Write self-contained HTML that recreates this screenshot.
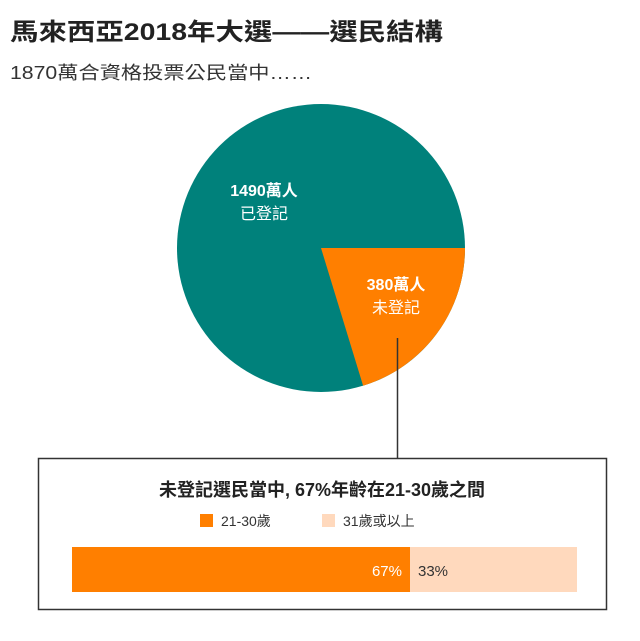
<!DOCTYPE html>
<html><head><meta charset="utf-8"><style>
body{margin:0;background:#fff;}
svg text{font-family:"Liberation Sans","Noto Sans CJK TC",sans-serif;}
</style></head><body>
<svg width="640" height="636" xmlns="http://www.w3.org/2000/svg">
<rect width="640" height="636" fill="#fff"/>
<text x="10" y="40" font-size="24" font-weight="bold" fill="#222" textLength="433" lengthAdjust="spacingAndGlyphs">馬來西亞2018年大選——選民結構</text>
<text x="10" y="79" font-size="18" fill="#333" textLength="302" lengthAdjust="spacingAndGlyphs">1870萬合資格投票公民當中……</text>
<circle cx="321" cy="248" r="144" fill="#00817b"/>
<path d="M321,248 L465,248 A144,144 0 0,1 363.1,385.7 Z" fill="#ff7f00"/>
<text x="264" y="196" font-size="16" font-weight="bold" fill="#fff" text-anchor="middle">1490萬人</text>
<text x="264" y="219" font-size="16" fill="#fff" text-anchor="middle">已登記</text>
<text x="396" y="290" font-size="16" font-weight="bold" fill="#fff" text-anchor="middle">380萬人</text>
<text x="396" y="313" font-size="16" fill="#fff" text-anchor="middle">未登記</text>
<line x1="397.5" y1="338" x2="397.5" y2="458" stroke="#333" stroke-width="1.5"/>
<rect x="38.5" y="458.5" width="568" height="151" fill="#fff" stroke="#333" stroke-width="1.5"/>
<text x="322" y="496" font-size="18" font-weight="bold" fill="#222" text-anchor="middle">未登記選民當中, 67%年齡在21-30歲之間</text>
<rect x="200" y="514" width="13" height="13" fill="#ff7f00"/>
<text x="221" y="526" font-size="14" fill="#333">21-30歲</text>
<rect x="322" y="514" width="13" height="13" fill="#ffd9bd"/>
<text x="343" y="526" font-size="14" fill="#333">31歲或以上</text>
<rect x="72" y="547" width="338" height="45" fill="#ff7f00"/>
<rect x="410" y="547" width="167" height="45" fill="#ffd9bd"/>
<text x="402" y="576" font-size="15" fill="#fff" text-anchor="end">67%</text>
<text x="418" y="576" font-size="15" fill="#333">33%</text>
</svg>
</body></html>
